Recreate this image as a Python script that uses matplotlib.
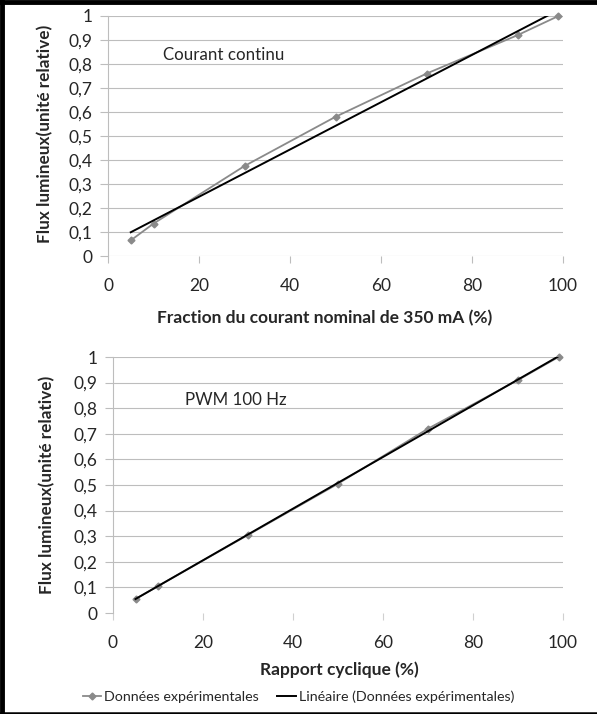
import matplotlib
matplotlib.use("Agg")
import matplotlib.pyplot as plt
from matplotlib.lines import Line2D
import numpy as np

# Mesures : flux lumineux relatif
x_courant = [5, 10, 30, 50, 70, 90, 99]
flux_courant = [0.065, 0.135, 0.375, 0.58, 0.76, 0.92, 1.0]

x_pwm = [5, 10, 30, 50, 70, 90, 99]
flux_pwm = [0.055, 0.105, 0.305, 0.505, 0.72, 0.91, 1.0]

y_ticks = [0, 0.1, 0.2, 0.3, 0.4, 0.5, 0.6, 0.7, 0.8, 0.9, 1.0]
y_ticklabels = ["0", "0,1", "0,2", "0,3", "0,4", "0,5", "0,6", "0,7", "0,8", "0,9", "1"]
x_ticks = [0, 20, 40, 60, 80, 100]

ylabel = "Flux lumineux(unité relative)"
legend_data = "Données expérimentales"
legend_fit = "Linéaire (Données expérimentales)"

plt.rcParams["font.family"] = ["Lato", "DejaVu Sans"]

W, H = 597, 714
fig = plt.figure(figsize=(W / 100, H / 100), dpi=100)

GRID = "#bdbdbd"
DATA = "#8a8a8a"
TXT = "#262626"


def px_axes(left, right, top, bottom):
    return fig.add_axes([left / W, 1 - bottom / H, (right - left) / W, (bottom - top) / H])


def style(ax, show_zero_line):
    ax.set_xlim(0, 100)
    ax.set_ylim(0, 1)
    ax.set_yticks(y_ticks)
    ax.set_yticklabels(y_ticklabels)
    ax.set_xticks(x_ticks)
    for s in ("top", "right", "bottom"):
        ax.spines[s].set_visible(False)
    ax.spines["left"].set_color(GRID)
    ax.spines["left"].set_linewidth(0.8)
    ax.yaxis.grid(True, color=GRID, lw=0.8)
    ax.set_axisbelow(True)
    ax.tick_params(axis="y", length=6, width=0.8, color=GRID, pad=5,
                   labelsize=12.5, labelcolor=TXT)
    ax.tick_params(axis="x", length=5, width=0.8, color=GRID if show_zero_line else "#d0d0d0",
                   pad=11, labelsize=12.5, labelcolor=TXT)
    if not show_zero_line:
        ax.get_ygridlines()[0].set_visible(False)


def draw(ax, x, y):
    ax.plot(x, y, color=DATA, lw=1.3, marker="D", ms=3.5, clip_on=False, zorder=3)
    a, b = np.polyfit(x, y, 1)
    xs = np.array([x[0], x[-1]])
    ax.plot(xs, a * xs + b, color="black", lw=1.4, zorder=4)


ax1 = px_axes(108, 563, 16, 256)
style(ax1, True)
draw(ax1, x_courant, flux_courant)
ax1.text(12.0, 0.838, "Courant continu", fontsize=12.2, va="center", color=TXT)
ax1.set_ylabel(ylabel, fontsize=12.3, fontweight="bold", color=TXT)
ax1.yaxis.set_label_coords(-0.121, 0.51)
ax1.set_xlabel("Fraction du courant nominal de 350 mA (%)", fontsize=12.5,
               fontweight="bold", color=TXT)
ax1.xaxis.set_label_coords(0.477, -0.225)

ax2 = px_axes(113, 563, 357, 613)
style(ax2, False)
draw(ax2, x_pwm, flux_pwm)
ax2.text(16, 0.832, "PWM 100 Hz", fontsize=12.2, va="center", color=TXT)
ax2.set_ylabel(ylabel, fontsize=12.3, fontweight="bold", color=TXT)
ax2.yaxis.set_label_coords(-0.129, 0.50)
ax2.set_xlabel("Rapport cyclique (%)", fontsize=12.5, fontweight="bold", color=TXT)
ax2.xaxis.set_label_coords(0.504, -0.19)

handles = [
    Line2D([], [], color=DATA, lw=1.3, marker="D", ms=3.5),
    Line2D([], [], color="black", lw=1.4),
]
fig.legend(handles, [legend_data, legend_fit], loc="center",
           bbox_to_anchor=(0.5, 1 - 697 / H), ncol=2, frameon=False,
           fontsize=10.3, handlelength=1.3, handletextpad=0.2, columnspacing=1.3,
           labelcolor=TXT)

# cadre noir autour de la figure
fig.add_artist(Line2D([2 / W, 2 / W], [0, 1], color="black", lw=3.5, transform=fig.transFigure))
fig.add_artist(Line2D([0, 1], [1 - 2 / H, 1 - 2 / H], color="black", lw=3.5, transform=fig.transFigure))
fig.add_artist(Line2D([0, 1], [1 / H, 1 / H], color="black", lw=1.8, transform=fig.transFigure))

fig.savefig("out.png", dpi=100)
